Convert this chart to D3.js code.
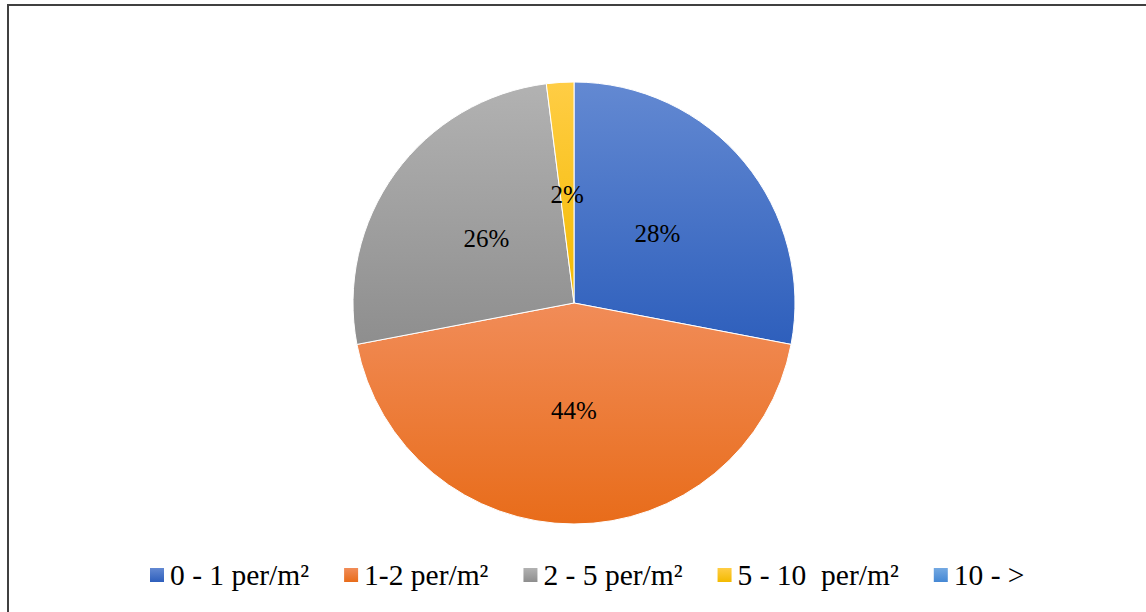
<!DOCTYPE html>
<html>
<head>
<meta charset="utf-8">
<script src="https://cdn.jsdelivr.net/npm/d3@7"></script>
</head>
<body style="margin:0">
<svg id="chart" width="1146" height="612" font-family="'Liberation Serif'"></svg>
<script>
// Density classes and their share of the sampled area (%)
const categories = ["0 - 1 per/m²", "1-2 per/m²", "2 - 5 per/m²", "5 - 10  per/m²", "10 - >"];
const shares = [28, 44, 26, 2, 0];
const labels = ["28%", "44%", "26%", "2%", ""];
// Top and bottom colours of each slice's vertical gradient
const colorTop = ["#6389d2", "#f18c58", "#b2b2b2", "#ffcd45", "#74a9e2"];
const colorBottom = ["#2e5fbc", "#e86c1a", "#8e8e8e", "#f3ba00", "#4588d4"];

const W = 1146, H = 612;
const cx = 574, cy = 303, R = 221;

const svg = d3.select("#chart");
const defs = svg.append("defs");

categories.forEach((c, i) => {
  const g = defs.append("linearGradient")
    .attr("id", "grad" + i)
    .attr("x1", 0).attr("y1", 0).attr("x2", 0).attr("y2", 1);
  g.append("stop").attr("offset", "0%").attr("stop-color", colorTop[i]);
  g.append("stop").attr("offset", "100%").attr("stop-color", colorBottom[i]);
});

// chart frame
svg.append("rect")
  .attr("x", 8).attr("y", 5)
  .attr("width", W + 20).attr("height", H + 20)
  .attr("fill", "none").attr("stroke", "#404040").attr("stroke-width", 2);

const data = categories.map((c, i) => ({ cat: c, value: shares[i], label: labels[i], i }));

const pie = d3.pie().sort(null).value(d => d.value);
const arcs = pie(data);
const arc = d3.arc().innerRadius(0).outerRadius(R);
const labelArc = d3.arc().innerRadius(R * 0.49).outerRadius(R * 0.49);

const g = svg.append("g").attr("transform", `translate(${cx},${cy})`);

g.selectAll("path.slice")
  .data(arcs.filter(a => a.data.value > 0))
  .join("path")
  .attr("class", "slice")
  .attr("d", arc)
  .attr("fill", d => `url(#grad${d.data.i})`)
  .attr("stroke", "#fff")
  .attr("stroke-width", 1);

g.selectAll("text.lbl")
  .data(arcs.filter(a => a.data.label))
  .join("text")
  .attr("class", "lbl")
  .attr("x", d => labelArc.centroid(d)[0])
  .attr("y", d => labelArc.centroid(d)[1] + 8)
  .attr("text-anchor", "middle")
  .attr("font-family", "'Liberation Serif'")
  .attr("font-size", 25)
  .attr("fill", "#000")
  .text(d => d.data.label);

// legend along the bottom; text widths come from a canvas context
const legendFont = 29.5;
const ctx = document.createElement("canvas").getContext("2d");
ctx.font = `${legendFont}px 'Liberation Serif'`;
const sq = 14, gapText = 6, gapItem = 35, legendY = 575;
const legend = svg.append("g").attr("class", "legend").attr("transform", "translate(150,0)");
let x = 0;
data.forEach(d => {
  legend.append("rect")
    .attr("x", x).attr("y", legendY - sq / 2)
    .attr("width", sq).attr("height", sq)
    .attr("fill", `url(#grad${d.i})`);
  legend.append("text")
    .attr("x", x + sq + gapText).attr("y", legendY + 10)
    .attr("font-family", "'Liberation Serif'")
    .attr("font-size", legendFont)
    .attr("fill", "#000")
    .style("white-space", "pre")
    .text(d.cat);
  x += sq + gapText + ctx.measureText(d.cat).width + gapItem;
});
</script>
</body>
</html>
